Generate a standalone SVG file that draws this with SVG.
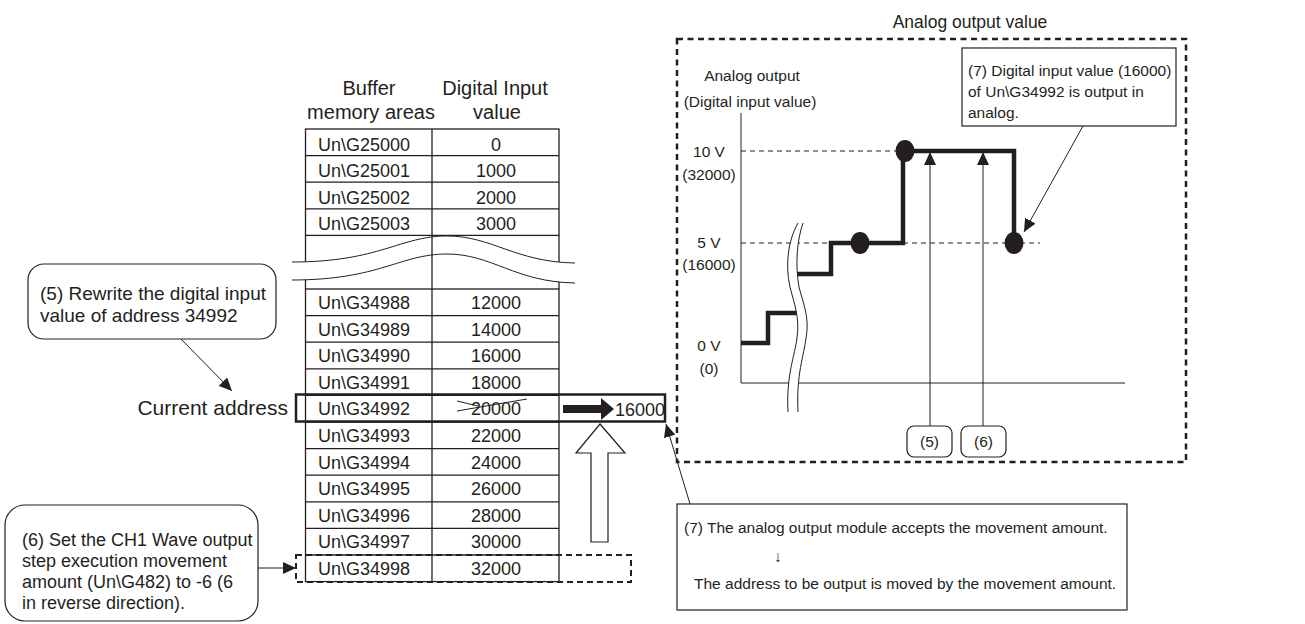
<svg xmlns="http://www.w3.org/2000/svg" width="1305" height="624" viewBox="0 0 1305 624">
<style>
text{font-family:"Liberation Sans",Arial,sans-serif;fill:#231f20}
.cell{font-size:18px}
.val{font-size:18px;text-anchor:middle}
.hd{font-size:20px;text-anchor:middle}
.ln{stroke:#231f20;stroke-width:1.3;fill:none}
.thin{stroke:#231f20;stroke-width:1;fill:none}
.dash{stroke:#231f20;stroke-width:1;stroke-dasharray:5 4;fill:none}
.bdash{stroke:#231f20;stroke-width:2.5;stroke-dasharray:6 4.5;fill:none}
.step{stroke:#231f20;stroke-width:4.5;fill:none;stroke-linejoin:miter}
.call{fill:#fff;stroke:#231f20;stroke-width:1.2}
.ct{font-size:18px}
.ct5{font-size:19px}
.gt{font-size:15.5px}
</style>
<defs>
<marker id="ah" markerUnits="userSpaceOnUse" markerWidth="14" markerHeight="12" refX="13" refY="6" orient="auto">
<path d="M0,0 L13,6 L0,12 z" fill="#231f20"/>
</marker>
</defs>

<!-- Table -->
<g id="table">
<text class="hd" x="369" y="95">Buffer</text>
<text class="hd" x="371" y="119">memory areas</text>
<text class="hd" x="495" y="95">Digital Input</text>
<text class="hd" x="497" y="119">value</text>
<!-- upper part -->
<rect class="ln" x="305.5" y="129" width="253.5" height="106.4"/>
<line class="ln" x1="305.5" y1="155.6" x2="559" y2="155.6"/>
<line class="ln" x1="305.5" y1="182.2" x2="559" y2="182.2"/>
<line class="ln" x1="305.5" y1="208.8" x2="559" y2="208.8"/>
<!-- break area -->
<line class="ln" x1="305.5" y1="235.4" x2="305.5" y2="289"/>
<line class="ln" x1="559" y1="235.4" x2="559" y2="289"/>
<path d="M292,262 C380,262 400,236 447,236 C492,236 515,262 575,263 L575,283 C515,282 492,254 447,254 C400,254 380,280 292,280 Z" fill="#fff" stroke="none"/>
<path class="thin" d="M292,262 C380,262 400,236 447,236 C492,236 515,262 575,263"/>
<path class="thin" d="M292,280 C380,280 400,254 447,254 C492,254 515,282 575,283"/>
<line class="ln" x1="432" y1="129" x2="432" y2="581.6"/>
<!-- lower part -->
<rect class="ln" x="305.5" y="289" width="253.5" height="292.6"/>
<line class="ln" x1="305.5" y1="315.6" x2="559" y2="315.6"/>
<line class="ln" x1="305.5" y1="342.2" x2="559" y2="342.2"/>
<line class="ln" x1="305.5" y1="368.8" x2="559" y2="368.8"/>
<line class="ln" x1="305.5" y1="395.4" x2="559" y2="395.4"/>
<line class="ln" x1="305.5" y1="422" x2="559" y2="422"/>
<line class="ln" x1="305.5" y1="448.6" x2="559" y2="448.6"/>
<line class="ln" x1="305.5" y1="475.2" x2="559" y2="475.2"/>
<line class="ln" x1="305.5" y1="501.8" x2="559" y2="501.8"/>
<line class="ln" x1="305.5" y1="528.4" x2="559" y2="528.4"/>
<line class="ln" x1="305.5" y1="555" x2="559" y2="555"/>

<text class="cell" x="318" y="150.5">Un\G25000</text><text class="val" x="496" y="150.5">0</text>
<text class="cell" x="318" y="177">Un\G25001</text><text class="val" x="496" y="177">1000</text>
<text class="cell" x="318" y="203.5">Un\G25002</text><text class="val" x="496" y="203.5">2000</text>
<text class="cell" x="318" y="230">Un\G25003</text><text class="val" x="496" y="230">3000</text>

<text class="cell" x="318" y="309">Un\G34988</text><text class="val" x="496" y="309">12000</text>
<text class="cell" x="318" y="335.6">Un\G34989</text><text class="val" x="496" y="335.6">14000</text>
<text class="cell" x="318" y="362.2">Un\G34990</text><text class="val" x="496" y="362.2">16000</text>
<text class="cell" x="318" y="388.8">Un\G34991</text><text class="val" x="496" y="388.8">18000</text>
<text class="cell" x="318" y="415.4">Un\G34992</text><text class="val" x="496" y="415.4">20000</text>
<text class="cell" x="318" y="442">Un\G34993</text><text class="val" x="496" y="442">22000</text>
<text class="cell" x="318" y="468.6">Un\G34994</text><text class="val" x="496" y="468.6">24000</text>
<text class="cell" x="318" y="495.2">Un\G34995</text><text class="val" x="496" y="495.2">26000</text>
<text class="cell" x="318" y="521.8">Un\G34996</text><text class="val" x="496" y="521.8">28000</text>
<text class="cell" x="318" y="548.4">Un\G34997</text><text class="val" x="496" y="548.4">30000</text>
<text class="cell" x="318" y="575">Un\G34998</text><text class="val" x="496" y="575">32000</text>
<!-- strike -->
<line class="thin" x1="457" y1="411" x2="527" y2="399"/>
<line class="thin" x1="457" y1="401" x2="478" y2="406"/>
</g>

<g id="current-row">
<text x="288" y="415" font-size="21" text-anchor="end">Current address</text>
<rect x="296" y="394.5" width="369" height="27" fill="none" stroke="#231f20" stroke-width="2.5"/>
<rect x="563" y="405" width="40" height="8" fill="#231f20"/>
<path d="M601,398 L614,409 L601,420 Z" fill="#231f20"/>
<text x="615" y="416" font-size="18">16000</text>
</g>

<g id="move-arrow">
<path d="M600,424 L625,453 L608,453 L608,542 L591,542 L591,453 L576,453 Z" fill="#fff" stroke="#231f20" stroke-width="1.2"/>
</g>

<g id="target-row">
<rect x="296" y="555" width="335" height="27" fill="none" stroke="#231f20" stroke-width="2" stroke-dasharray="6 4"/>
</g>

<g id="callout5">
<rect class="call" x="28" y="264" width="248" height="75" rx="16"/>
<text class="ct5" x="40" y="300">(5) Rewrite the digital input</text>
<text class="ct5" x="40" y="322">value of address 34992</text>
</g>

<g id="callout6">
<rect class="call" x="5" y="505" width="253" height="116" rx="20"/>
<text class="ct" x="22" y="546">(6) Set the CH1 Wave output</text>
<text class="ct" x="22" y="567">step execution movement</text>
<text class="ct" x="22" y="588">amount (Un\G482) to -6 (6</text>
<text class="ct" x="22" y="609">in reverse direction).</text>
</g>

<!-- Chart panel -->
<g id="chart">
<text x="970" y="28" font-size="17.5" text-anchor="middle">Analog output value</text>
<rect class="bdash" x="677" y="39" width="509" height="423"/>
<text class="gt" x="752" y="81" text-anchor="middle">Analog output</text>
<text class="gt" x="750" y="107" text-anchor="middle">(Digital input value)</text>
<line class="thin" x1="741" y1="113" x2="741" y2="383"/>
<line class="thin" x1="741" y1="383" x2="1125" y2="383"/>
<text class="gt" x="709" y="157" text-anchor="middle">10 V</text>
<text class="gt" x="709" y="180" text-anchor="middle">(32000)</text>
<text class="gt" x="709" y="248" text-anchor="middle">5 V</text>
<text class="gt" x="709" y="270" text-anchor="middle">(16000)</text>
<text class="gt" x="709" y="351" text-anchor="middle">0 V</text>
<text class="gt" x="709" y="374" text-anchor="middle">(0)</text>
<line class="dash" x1="741" y1="151" x2="903" y2="151"/>
<line class="dash" x1="741" y1="243" x2="1040" y2="243"/>
<path class="step" d="M741,343 L768,343 L768,313 L798,313"/>
<path class="step" d="M797,274 L831,274 L831,243 L903,243 L903,151 L1014,151 L1014,243"/>
<path d="M798,223 C788,240 785,265 790,287 C794,303 800,318 797,338 C795,355 786,375 788,412 L798,412 C796,375 804,355 806,338 C810,318 803,303 799,287 C795,265 797,240 803,223 Z" fill="#fff" stroke="none"/>
<path class="thin" d="M798,223 C788,240 785,265 790,287 C794,303 800,318 797,338 C795,355 786,375 788,412"/>
<path class="thin" d="M803,223 C797,240 795,265 799,287 C803,303 810,318 806,338 C804,355 796,375 798,412"/>
<ellipse cx="860" cy="243" rx="9.5" ry="11" fill="#231f20"/>
<ellipse cx="905" cy="151" rx="9.5" ry="11" fill="#231f20"/>
<ellipse cx="1014" cy="243" rx="9.5" ry="11" fill="#231f20"/>
</g>

<g id="marker5">
<rect class="call" x="907" y="426" width="45" height="31" rx="7"/>
<text class="gt" x="929.5" y="447" text-anchor="middle">(5)</text>
</g>
<g id="marker6">
<rect class="call" x="961" y="426" width="45" height="31" rx="7"/>
<text class="gt" x="983.5" y="447" text-anchor="middle">(6)</text>
</g>

<g id="callout7-top">
<rect class="call" x="962" y="48" width="214" height="78"/>
<text class="gt" x="968" y="76">(7) Digital input value (16000)</text>
<text class="gt" x="968" y="97">of Un\G34992 is output in</text>
<text class="gt" x="968" y="118">analog.</text>
</g>

<g id="callout7-bottom">
<rect class="call" x="677" y="504" width="450" height="106"/>
<text class="gt" x="684" y="533">(7) The analog output module accepts the movement amount.</text>
<text class="gt" x="778" y="562" text-anchor="middle">↓</text>
<text class="gt" x="694" y="589">The address to be output is moved by the movement amount.</text>
</g>

<g id="connectors">
<line class="thin" x1="181" y1="339" x2="232" y2="391" marker-end="url(#ah)"/>
<line class="thin" x1="258" y1="568" x2="296" y2="568" marker-end="url(#ah)"/>
<line class="thin" x1="690" y1="504" x2="666" y2="424" marker-end="url(#ah)"/>
<line class="thin" x1="1083" y1="126" x2="1024" y2="232" marker-end="url(#ah)"/>
<line class="thin" x1="930" y1="426" x2="930" y2="152" marker-end="url(#ah)"/>
<line class="thin" x1="983" y1="426" x2="983" y2="152" marker-end="url(#ah)"/>
</g>
</svg>
